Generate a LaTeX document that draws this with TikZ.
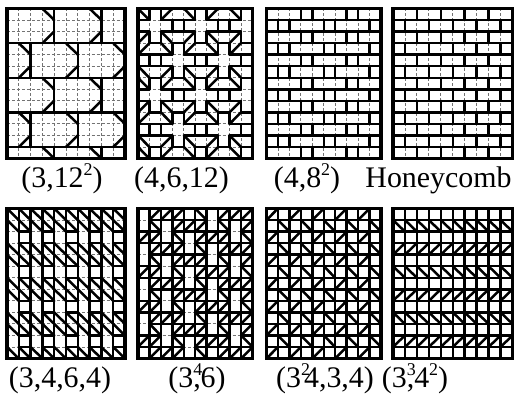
\documentclass[tikz,border=0pt]{standalone}
\usepackage{fontspec}
\setmainfont{Liberation Serif}
\tikzset{
  gridl/.style={draw=black!55, line width=0.9pt, dash pattern=on 3pt off 2pt},
  tk/.style={line width=2.5pt, line cap=round, line join=round},
  bord/.style={line width=3.8pt, line join=miter},
  lab/.style={font=\fontsize{30}{34}\selectfont, anchor=base, inner sep=0pt},
  pan/.style n args={4}{shift={(#1,#2)}, x=#3bp, y=-#4bp}
}
\newcommand\sps[1]{\raisebox{0.4em}{\fontsize{18}{18}\selectfont #1}}
\newcommand\dgrid{%
  \foreach \xi in {1,...,9} \draw[gridl] (\xi,0)--(\xi,13);
  \foreach \yi in {1,...,12} \draw[gridl] (0,\yi)--(10,\yi);}
\newcommand\fullgrid{%
  \foreach \xi in {1,...,9} \draw[tk] (\xi,0)--(\xi,13);
  \foreach \yi in {1,...,12} \draw[tk] (0,\yi)--(10,\yi);}
\newcommand\pbord{\draw[bord] (0,0) rectangle (10,13);}
\begin{document}
\begin{tikzpicture}[x=1bp,y=-1bp]
\useasboundingbox (0,0) rectangle (516,401);
% ---------- (3,12^2)
\begin{scope}[pan={7}{8.5}{11.8}{11.54}]
  \dgrid
  \begin{scope}
    \clip (0,0) rectangle (10,13);
    \foreach \yi in {3,6,9,12} \draw[tk] (0,\yi)--(10,\yi);
    \foreach \tb in {0,6} {
      \foreach \xi in {4,8} \draw[tk] (\xi,\tb)--(\xi,\tb+3);
      \foreach \xi in {3,7} {\draw[tk] (\xi,\tb)--(\xi+1,\tb+1); \draw[tk] (\xi,\tb+3)--(\xi+1,\tb+2);}
    }
    \foreach \tb in {3,9} {
      \foreach \xi in {2,6} \draw[tk] (\xi,\tb)--(\xi,\tb+3);
      \foreach \xi in {1,5,9} {\draw[tk] (\xi,\tb)--(\xi+1,\tb+1); \draw[tk] (\xi,\tb+3)--(\xi+1,\tb+2);}
    }
    \foreach \xi in {4,8} \draw[tk] (\xi,12)--(\xi,13);
    \foreach \xi in {3,7} \draw[tk] (\xi,12)--(\xi+1,13);
  \end{scope}
  \pbord
\end{scope}
% ---------- (4,6,12)
\begin{scope}[pan={138}{8.5}{11.45}{11.54}]
  \dgrid
  \begin{scope}
    \clip (0,0) rectangle (10,13);
    \foreach \ci/\ri in {1/1,5/1,9/1,-1/4,3/4,7/4,11/4,1/7,5/7,9/7,-1/10,3/10,7/10,11/10,1/13,5/13,9/13} {
      \draw[tk] (\ci,\ri-1) -- (\ci+1,\ri-1) -- (\ci+1,\ri) -- (\ci+2,\ri) -- (\ci+2,\ri+1) -- (\ci+1,\ri+1)
        -- (\ci+1,\ri+2) -- (\ci,\ri+2) -- (\ci,\ri+1) -- (\ci-1,\ri+1) -- (\ci-1,\ri) -- (\ci,\ri) -- cycle;
      \draw[tk] (\ci-1,\ri-1) -- (\ci,\ri);
      \draw[tk] (\ci+1,\ri) -- (\ci+2,\ri-1);
      \draw[tk] (\ci-1,\ri+2) -- (\ci,\ri+1);
      \draw[tk] (\ci+1,\ri+1) -- (\ci+2,\ri+2);
    }
    \foreach \ci/\ri in {3/1,7/1,1/4,5/4,9/4,3/7,7/7,1/10,5/10,9/10}
      \draw[tk] (\ci,\ri) rectangle (\ci+1,\ri+1);
  \end{scope}
  \pbord
\end{scope}
% ---------- (4,8^2)
\begin{scope}[pan={266.5}{8.5}{11.45}{11.54}]
  \dgrid
  \foreach \yi in {1,...,12} \draw[tk] (0,\yi)--(10,\yi);
  \foreach \ri in {0,2,...,12} \foreach \xi in {3,4,7,8} \draw[tk] (\xi,\ri)--(\xi,\ri+1);
  \foreach \ri in {1,3,...,11} \foreach \xi in {1,2,5,6,9} \draw[tk] (\xi,\ri)--(\xi,\ri+1);
  \pbord
\end{scope}
% ---------- Honeycomb
\begin{scope}[pan={393}{8.5}{11.95}{11.54}]
  \dgrid
  \foreach \yi in {1,...,12} \draw[tk] (0,\yi)--(10,\yi);
  \foreach \ri in {0,2,...,12} \foreach \xi in {2,4,6,8} \draw[tk] (\xi,\ri)--(\xi,\ri+1);
  \foreach \ri in {1,3,...,11} \foreach \xi in {1,3,5,7,9} \draw[tk] (\xi,\ri)--(\xi,\ri+1);
  \pbord
\end{scope}
% ---------- (3,4,6,4)
\begin{scope}[pan={7}{208.5}{11.8}{11.54}]
  \dgrid
  \foreach \xi in {1,...,9} \draw[tk] (\xi,0)--(\xi,13);
  \foreach \ri in {0,1,3,4,6,7,9,10,12} \foreach \ci in {0,...,9} \draw[tk] (\ci,\ri)--(\ci+1,\ri+1);
  \foreach \yi in {2,3,5,6,8,9,11,12} \foreach \ci in {1,3,5,7,9} \draw[tk] (\ci,\yi)--(\ci+1,\yi);
  \pbord
\end{scope}
% ---------- (3^4,6)
\begin{scope}[pan={138}{208.5}{11.45}{11.54}]
  \dgrid
  \foreach \xi in {1,...,9} \draw[tk] (\xi,0)--(\xi,13);
  \foreach \yi in {1,...,12} \foreach \ci in {0,...,9} {
    \pgfmathtruncatemacro\qe{mod(\ci,2)}
    \pgfmathtruncatemacro\pa{mod(int(\ci/2),3)}
    \pgfmathtruncatemacro\qm{mod(\yi-1-\pa+6,3)}
    \ifnum\qe=0 \ifnum\qm=0 \else \draw[tk] (\ci,\yi)--(\ci+1,\yi); \fi
    \else \draw[tk] (\ci,\yi)--(\ci+1,\yi); \fi
  }
  \foreach \ri in {0,...,12} \foreach \ci in {0,...,9} {
    \pgfmathtruncatemacro\qe{mod(\ci,2)}
    \pgfmathtruncatemacro\pa{mod(int(\ci/2),3)}
    \pgfmathtruncatemacro\qm{mod(\ri-\pa+6,3)}
    \ifnum\qe=0
      \ifnum\qm=2 \draw[tk] (\ci,\ri+1)--(\ci+1,\ri); \fi
    \else
      \ifnum\qm=1 \draw[tk] (\ci,\ri)--(\ci+1,\ri+1); \else \draw[tk] (\ci,\ri+1)--(\ci+1,\ri); \fi
    \fi
  }
  \pbord
\end{scope}
% ---------- (3^2,4,3,4)
\begin{scope}[pan={266.5}{208.5}{11.45}{11.54}]
  \fullgrid
  \foreach \ci in {0,2,...,8} \foreach \ri in {0,2,...,12} \draw[tk] (\ci,\ri+1)--(\ci+1,\ri);
  \foreach \ci in {1,3,...,9} \foreach \ri in {1,3,...,11} \draw[tk] (\ci,\ri)--(\ci+1,\ri+1);
  \pbord
\end{scope}
% ---------- (3^3,4^2)
\begin{scope}[pan={393}{208.5}{11.95}{11.54}]
  \fullgrid
  \foreach \ri in {1,5,9} \foreach \ci in {0,...,9} \draw[tk] (\ci,\ri)--(\ci+1,\ri+1);
  \foreach \ri in {3,7,11} \foreach \ci in {0,...,9} \draw[tk] (\ci,\ri+1)--(\ci+1,\ri);
  \pbord
\end{scope}
% ---------- labels
\node[lab] (l1) at (62,187) {(3,12\sps{2})};
\node[lab] (l2) at (181.5,187) {(4,6,12)};
\node[lab] (l3) at (307,187) {(4,8\sps{2})};
\node[lab] (l4) at (438.5,187) {Honeycomb};
\node[lab] (l5) at (60,387) {(3,4,6,4)};
\node[lab] (l6) at (197,387) {(3\rlap{\sps{4}},6)};
\node[lab] (l7) at (325,387) {(3\rlap{\sps{2}}\kern3pt 4,3,4)};
\node[lab] (l8) at (415,387) {(3\rlap{\sps{3}},4\sps{2})};
\end{tikzpicture}
\end{document}
